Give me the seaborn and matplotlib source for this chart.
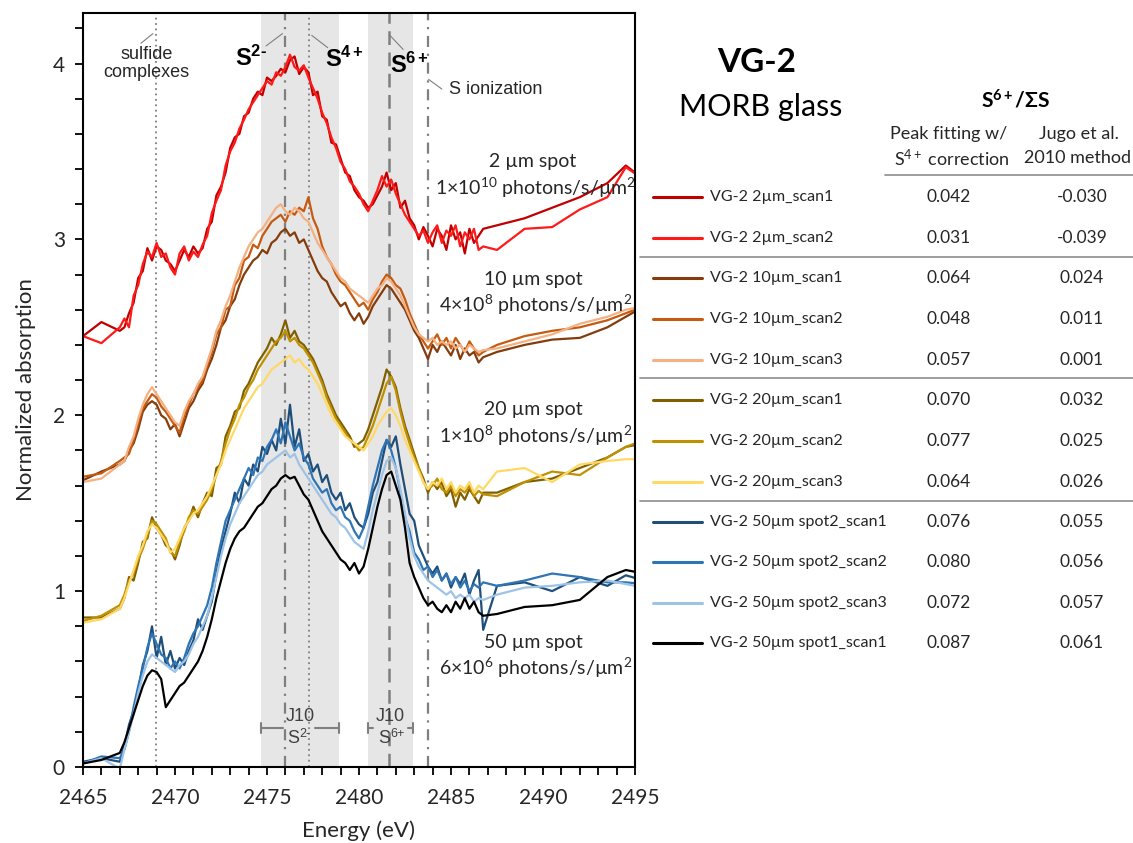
import numpy as np
import pandas as pd
import matplotlib
matplotlib.use("Agg")
import matplotlib.pyplot as plt
from matplotlib.lines import Line2D
from matplotlib.ticker import MultipleLocator
import seaborn as sns

# ---------------------------------------------------------------- data
# energy sampling: coarse pre-edge, 0.25 eV edge region, coarse post-edge
E_PRE = [2465.0, 2466.0, 2467.0]
E_EDGE = list(np.round(np.arange(2467.25, 2486.76, 0.25), 2))
E_POST = [2487.5, 2489.0, 2490.5, 2492.0, 2493.5, 2494.5, 2495.5]

# normalized absorption (vertically offset by spot size)
vg2_2um_scan1 = [
    2.45, 2.53, 2.48,
    2.50, 2.58, 2.64, 2.78, 2.82, 2.95, 2.88, 2.96, 2.94, 2.88,
    2.86, 2.82, 2.88, 2.94, 2.90, 2.96, 2.92, 2.95, 3.06, 3.10,
    3.25, 3.30, 3.38, 3.52, 3.58, 3.60, 3.70, 3.72, 3.80, 3.84,
    3.82, 3.92, 3.90, 3.93, 3.97, 3.95, 4.02, 4.04, 3.94, 3.98,
    3.95, 3.82, 3.84, 3.70, 3.68, 3.55, 3.54, 3.46, 3.38, 3.36,
    3.28, 3.24, 3.22, 3.18, 3.20, 3.25, 3.30, 3.38, 3.28, 3.32,
    3.18, 3.22, 3.12, 3.08, 3.00, 3.07, 3.02, 2.96, 3.06, 3.02,
    2.94, 3.08, 3.00, 3.04, 2.92, 3.06, 2.98, 3.02, 3.06,
    3.08, 3.12, 3.18, 3.24, 3.32, 3.42, 3.34,
]
vg2_2um_scan2 = [
    2.45, 2.41, 2.50,
    2.55, 2.50, 2.68, 2.74, 2.86, 2.93, 2.90, 2.98, 2.90, 2.92,
    2.84, 2.80, 2.92, 2.96, 2.88, 2.93, 2.90, 2.97, 3.02, 3.15,
    3.22, 3.28, 3.42, 3.50, 3.55, 3.63, 3.68, 3.74, 3.78, 3.82,
    3.86, 3.90, 3.88, 3.95, 3.93, 3.98, 4.05, 3.98, 3.96, 3.99,
    3.92, 3.86, 3.80, 3.72, 3.66, 3.58, 3.52, 3.44, 3.40, 3.33,
    3.30, 3.26, 3.20, 3.16, 3.22, 3.28, 3.36, 3.30, 3.34, 3.26,
    3.20, 3.14, 3.10, 3.06, 3.02, 3.05, 2.98, 3.04, 3.08, 2.98,
    3.05, 3.02, 3.08, 2.96, 3.04, 3.00, 3.06, 2.94, 2.96,
    2.94, 3.06, 3.07, 3.17, 3.24, 3.41, 3.34,
]
vg2_10um_scan1 = [
    1.63, 1.68, 1.72,
    1.74, 1.80, 1.84, 1.92, 2.02, 2.06, 2.08, 2.06, 2.00, 1.98,
    1.92, 1.95, 1.88, 1.96, 2.04, 2.08, 2.14, 2.18, 2.26, 2.32,
    2.40, 2.50, 2.54, 2.62, 2.66, 2.74, 2.80, 2.84, 2.88, 2.90,
    2.94, 2.92, 2.98, 3.00, 3.04, 3.06, 3.02, 3.04, 2.98, 3.00,
    2.94, 2.88, 2.82, 2.78, 2.76, 2.70, 2.66, 2.62, 2.64, 2.58,
    2.54, 2.58, 2.52, 2.56, 2.62, 2.66, 2.70, 2.74, 2.72, 2.68,
    2.64, 2.60, 2.54, 2.48, 2.44, 2.38, 2.32, 2.40, 2.36, 2.42,
    2.38, 2.34, 2.40, 2.32, 2.38, 2.34, 2.36, 2.30, 2.33,
    2.36, 2.40, 2.43, 2.44, 2.50, 2.56, 2.62,
]
vg2_10um_scan2 = [
    1.65, 1.67, 1.74,
    1.76, 1.78, 1.86, 1.95, 2.04, 2.08, 2.12, 2.10, 2.05, 2.02,
    1.98, 1.94, 1.90, 2.00, 2.06, 2.12, 2.16, 2.20, 2.28, 2.36,
    2.46, 2.50, 2.60, 2.62, 2.74, 2.78, 2.88, 2.90, 2.97, 2.95,
    3.02, 3.06, 3.10, 3.12, 3.14, 3.10, 3.16, 3.14, 3.18, 3.16,
    3.24, 3.12, 3.06, 2.96, 2.90, 2.86, 2.80, 2.76, 2.74, 2.70,
    2.66, 2.62, 2.64, 2.60, 2.66, 2.70, 2.76, 2.80, 2.78, 2.74,
    2.72, 2.66, 2.58, 2.52, 2.46, 2.42, 2.38, 2.42, 2.46, 2.40,
    2.44, 2.38, 2.44, 2.40, 2.36, 2.42, 2.38, 2.34, 2.36,
    2.40, 2.45, 2.48, 2.50, 2.54, 2.58, 2.62,
]
vg2_10um_scan3 = [
    1.62, 1.64, 1.72,
    1.74, 1.82, 1.88, 1.98, 2.06, 2.12, 2.16, 2.12, 2.08, 2.04,
    2.00, 1.96, 1.94, 2.02, 2.08, 2.12, 2.18, 2.22, 2.30, 2.38,
    2.48, 2.54, 2.62, 2.68, 2.76, 2.84, 2.90, 2.96, 3.00, 3.04,
    3.06, 3.10, 3.14, 3.18, 3.20, 3.16, 3.14, 3.18, 3.16, 3.12,
    3.10, 3.04, 2.98, 2.94, 2.90, 2.86, 2.82, 2.78, 2.76, 2.72,
    2.70, 2.68, 2.66, 2.64, 2.68, 2.72, 2.74, 2.78, 2.76, 2.72,
    2.68, 2.62, 2.56, 2.50, 2.46, 2.44, 2.42, 2.44, 2.40, 2.42,
    2.40, 2.42, 2.38, 2.40, 2.36, 2.40, 2.38, 2.36, 2.37,
    2.38, 2.42, 2.46, 2.52, 2.56, 2.60, 2.62,
]
vg2_20um_scan1 = [
    0.85, 0.85, 0.90,
    0.96, 1.08, 1.06, 1.16, 1.28, 1.30, 1.42, 1.36, 1.32, 1.26,
    1.24, 1.18, 1.26, 1.36, 1.40, 1.48, 1.42, 1.50, 1.56, 1.54,
    1.70, 1.72, 1.88, 1.94, 2.02, 2.04, 2.14, 2.18, 2.24, 2.30,
    2.34, 2.38, 2.44, 2.40, 2.46, 2.54, 2.44, 2.48, 2.42, 2.40,
    2.36, 2.32, 2.26, 2.20, 2.12, 2.06, 2.00, 1.96, 1.92, 1.88,
    1.82, 1.84, 1.86, 1.92, 2.00, 2.08, 2.16, 2.26, 2.22, 2.16,
    2.04, 1.94, 1.86, 1.78, 1.70, 1.64, 1.56, 1.62, 1.58, 1.62,
    1.54, 1.58, 1.48, 1.56, 1.52, 1.58, 1.54, 1.50, 1.56,
    1.56, 1.62, 1.64, 1.70, 1.76, 1.82, 1.84,
]
vg2_20um_scan2 = [
    0.83, 0.86, 0.92,
    0.98, 1.06, 1.10, 1.18, 1.24, 1.32, 1.40, 1.38, 1.34, 1.30,
    1.22, 1.20, 1.28, 1.34, 1.42, 1.46, 1.44, 1.48, 1.52, 1.58,
    1.66, 1.74, 1.84, 1.92, 1.98, 2.06, 2.10, 2.16, 2.20, 2.26,
    2.30, 2.34, 2.38, 2.42, 2.44, 2.48, 2.42, 2.44, 2.40, 2.38,
    2.34, 2.30, 2.24, 2.18, 2.10, 2.04, 1.98, 1.94, 1.90, 1.86,
    1.84, 1.80, 1.82, 1.88, 1.94, 2.02, 2.10, 2.18, 2.22, 2.14,
    2.02, 1.92, 1.84, 1.76, 1.70, 1.62, 1.58, 1.60, 1.64, 1.58,
    1.56, 1.60, 1.54, 1.58, 1.56, 1.60, 1.54, 1.57, 1.55,
    1.54, 1.62, 1.68, 1.66, 1.76, 1.82, 1.86,
]
vg2_20um_scan3 = [
    0.82, 0.84, 0.90,
    0.96, 1.04, 1.12, 1.20, 1.26, 1.34, 1.38, 1.36, 1.32, 1.28,
    1.22, 1.24, 1.30, 1.36, 1.40, 1.44, 1.46, 1.50, 1.54, 1.60,
    1.66, 1.72, 1.80, 1.86, 1.92, 1.98, 2.04, 2.08, 2.12, 2.16,
    2.18, 2.22, 2.26, 2.28, 2.30, 2.32, 2.34, 2.30, 2.32, 2.28,
    2.26, 2.22, 2.18, 2.12, 2.06, 2.00, 1.96, 1.92, 1.88, 1.86,
    1.84, 1.82, 1.80, 1.84, 1.88, 1.94, 1.98, 2.02, 2.04, 2.00,
    1.94, 1.86, 1.80, 1.74, 1.68, 1.62, 1.58, 1.62, 1.60, 1.64,
    1.58, 1.62, 1.56, 1.60, 1.58, 1.62, 1.56, 1.60, 1.58,
    1.68, 1.70, 1.62, 1.72, 1.74, 1.75, 1.75,
]
vg2_50um_spot2_scan1 = [
    0.03, 0.05, 0.03,
    0.12, 0.24, 0.32, 0.44, 0.58, 0.66, 0.80, 0.62, 0.74, 0.58,
    0.66, 0.56, 0.62, 0.58, 0.66, 0.72, 0.84, 0.78, 0.86, 0.94,
    1.10, 1.24, 1.34, 1.44, 1.56, 1.50, 1.64, 1.60, 1.72, 1.68,
    1.82, 1.78, 1.86, 1.80, 1.98, 1.84, 2.06, 1.82, 1.92, 1.74,
    1.78, 1.68, 1.72, 1.62, 1.66, 1.56, 1.52, 1.56, 1.46, 1.50,
    1.42, 1.38, 1.36, 1.44, 1.56, 1.62, 1.74, 1.86, 1.82, 1.88,
    1.72, 1.58, 1.44, 1.40, 1.26, 1.20, 1.14, 1.10, 1.14, 1.06,
    1.10, 1.02, 1.08, 1.04, 1.10, 0.98, 1.06, 1.12, 0.78,
    1.03, 1.05, 1.00, 1.08, 1.03, 1.09, 1.06,
]
vg2_50um_spot2_scan2 = [
    0.02, 0.06, 0.05,
    0.10, 0.20, 0.34, 0.46, 0.56, 0.68, 0.76, 0.70, 0.64, 0.62,
    0.56, 0.60, 0.56, 0.62, 0.70, 0.76, 0.80, 0.86, 0.92, 1.02,
    1.16, 1.28, 1.40, 1.46, 1.52, 1.58, 1.64, 1.70, 1.66, 1.76,
    1.74, 1.82, 1.86, 1.92, 1.84, 1.96, 1.88, 1.80, 1.84, 1.76,
    1.72, 1.64, 1.60, 1.56, 1.58, 1.50, 1.46, 1.48, 1.42, 1.40,
    1.34, 1.30, 1.36, 1.48, 1.60, 1.70, 1.80, 1.86, 1.80, 1.70,
    1.56, 1.42, 1.34, 1.22, 1.18, 1.12, 1.14, 1.08, 1.12, 1.06,
    1.10, 1.04, 1.08, 1.02, 1.06, 1.00, 1.04, 1.02, 1.05,
    1.03, 1.06, 1.10, 1.08, 1.05, 1.05, 1.04,
]
vg2_50um_spot2_scan3 = [
    0.02, 0.05, -0.01,
    0.10, 0.20, 0.30, 0.42, 0.52, 0.60, 0.64, 0.62, 0.60, 0.58,
    0.56, 0.54, 0.58, 0.60, 0.64, 0.70, 0.74, 0.80, 0.86, 0.96,
    1.08, 1.20, 1.30, 1.38, 1.44, 1.50, 1.54, 1.58, 1.62, 1.66,
    1.68, 1.72, 1.74, 1.76, 1.78, 1.80, 1.76, 1.78, 1.72, 1.68,
    1.64, 1.60, 1.56, 1.52, 1.48, 1.44, 1.42, 1.38, 1.36, 1.32,
    1.28, 1.26, 1.24, 1.34, 1.46, 1.56, 1.66, 1.74, 1.76, 1.70,
    1.58, 1.44, 1.30, 1.20, 1.14, 1.10, 1.06, 1.04, 1.02, 1.00,
    0.98, 1.00, 0.96, 0.98, 0.96, 0.98, 0.94, 0.96, 0.95,
    0.98, 1.02, 1.03, 1.05, 1.06, 1.04, 1.02,
]
vg2_50um_spot1_scan1 = [
    0.02, 0.04, 0.08,
    0.14, 0.22, 0.30, 0.38, 0.46, 0.52, 0.55, 0.54, 0.50, 0.34,
    0.38, 0.42, 0.46, 0.48, 0.52, 0.56, 0.60, 0.66, 0.74, 0.84,
    0.96, 1.06, 1.16, 1.24, 1.30, 1.34, 1.36, 1.40, 1.44, 1.48,
    1.50, 1.54, 1.58, 1.60, 1.64, 1.66, 1.64, 1.65, 1.60, 1.55,
    1.52, 1.46, 1.40, 1.34, 1.30, 1.26, 1.22, 1.18, 1.16, 1.12,
    1.16, 1.10, 1.14, 1.24, 1.36, 1.48, 1.58, 1.66, 1.68, 1.60,
    1.52, 1.36, 1.16, 1.08, 1.02, 0.96, 0.92, 0.94, 0.90, 0.88,
    0.92, 0.88, 0.94, 0.90, 0.96, 0.90, 0.94, 0.88, 0.86,
    0.87, 0.91, 0.92, 0.95, 1.08, 1.12, 1.10,
]

scan_names = [
    "VG-2 2µm_scan1", "VG-2 2µm_scan2",
    "VG-2 10µm_scan1", "VG-2 10µm_scan2", "VG-2 10µm_scan3",
    "VG-2 20µm_scan1", "VG-2 20µm_scan2", "VG-2 20µm_scan3",
    "VG-2 50µm spot2_scan1", "VG-2 50µm spot2_scan2",
    "VG-2 50µm spot2_scan3", "VG-2 50µm spot1_scan1",
]
scan_values = [
    vg2_2um_scan1, vg2_2um_scan2,
    vg2_10um_scan1, vg2_10um_scan2, vg2_10um_scan3,
    vg2_20um_scan1, vg2_20um_scan2, vg2_20um_scan3,
    vg2_50um_spot2_scan1, vg2_50um_spot2_scan2,
    vg2_50um_spot2_scan3, vg2_50um_spot1_scan1,
]
scan_colors = [
    "#C00000", "#FF1A1A",
    "#843C0C", "#C55A11", "#F4B183",
    "#7F6000", "#BF9000", "#FFD966",
    "#1F4E79", "#2E75B6", "#9DC3E6", "#000000",
]
# S6+/ΣS results
peak_fit_s4_corr = ["0.042", "0.031", "0.064", "0.048", "0.057", "0.070",
                    "0.077", "0.064", "0.076", "0.080", "0.072", "0.087"]
jugo_2010 = ["-0.030", "-0.039", "0.024", "0.011", "0.001", "0.032",
             "0.025", "0.026", "0.055", "0.056", "0.057", "0.061"]

# reference energies (eV)
E_SULFIDE = 2468.95
E_S2 = 2475.96
E_S4 = 2477.28
E_S6 = 2481.63
E_ION = 2483.73
J10_S2 = (2474.70, 2478.92)
J10_S6 = (2480.50, 2482.95)

# group captions
group_spot = ["2 µm spot", "10 µm spot", "20 µm spot", "50 µm spot"]
group_flux = ["1×10$^{10}$", "4×10$^{8}$", "1×10$^{8}$", "6×10$^{6}$"]
group_y = [3.44, 2.77, 2.03, 0.71]

# ---------------------------------------------------------------- style
sns.set_theme(style="ticks")
plt.rcParams["font.family"] = ["Lato", "DejaVu Sans"]
plt.rcParams["mathtext.fontset"] = "custom"
plt.rcParams["mathtext.rm"] = "Lato"
plt.rcParams["mathtext.it"] = "Lato"
plt.rcParams["mathtext.bf"] = "Lato:bold"
plt.rcParams["mathtext.sf"] = "Liberation Sans"
plt.rcParams["mathtext.tt"] = "Liberation Sans:bold"

ARIAL = ["Liberation Sans", "DejaVu Sans"]
TXT = "#262626"
GREY = "#7F7F7F"

W, H = 1133, 843
fig = plt.figure(figsize=(W / 100, H / 100), dpi=100)
ax = fig.add_axes([83 / W, 76 / H, 552 / W, 754.5 / H])

energy = E_PRE + [float(e) for e in E_EDGE] + E_POST
rows = []
for name, vals in zip(scan_names, scan_values):
    for e, v in zip(energy, vals):
        rows.append((name, e, v))
df = pd.DataFrame(rows, columns=["scan", "energy", "absorption"])

# shaded J10 windows and reference lines
ax.axvspan(*J10_S2, color="#E7E6E6", lw=0, zorder=0)
ax.axvspan(*J10_S6, color="#E7E6E6", lw=0, zorder=0)
ax.axvline(E_SULFIDE, color=GREY, lw=1.3, ls=(0, (1, 2)), zorder=1)
ax.axvline(E_S4, color=GREY, lw=1.3, ls=(0, (1, 2)), zorder=1)
ax.axvline(E_S2, color=GREY, lw=1.6, ls=(0, (5, 3, 1, 3)), zorder=1)
ax.axvline(E_ION, color=GREY, lw=1.6, ls=(0, (5, 3, 1, 3)), zorder=1)
ax.axvline(E_S6, color=GREY, lw=1.8, ls=(0, (5.5, 3)), zorder=1)

sns.lineplot(data=df, x="energy", y="absorption", hue="scan",
             hue_order=scan_names, palette=dict(zip(scan_names, scan_colors)),
             estimator=None, sort=False, legend=False, lw=1.6, ax=ax,
             zorder=2)

ax.set_xlim(2465, 2495)
ax.set_ylim(0, 4.29)
ax.xaxis.set_major_locator(MultipleLocator(5))
ax.xaxis.set_minor_locator(MultipleLocator(1))
ax.yaxis.set_major_locator(MultipleLocator(1))
ax.yaxis.set_minor_locator(MultipleLocator(0.2))
ax.tick_params(which="both", direction="out", length=6, width=1.3,
               color="black", labelsize=15, labelcolor=TXT)
ax.tick_params(axis="x", pad=9)
ax.tick_params(axis="y", pad=7)
for s in ax.spines.values():
    s.set_linewidth(1.5)
    s.set_color("black")
ax.set_xlabel("Energy (eV)", fontsize=16, color=TXT, labelpad=9)
ax.set_ylabel("Normalized absorption", fontsize=16, color=TXT, labelpad=12)

# species annotations
def leader(x0, y0, x1, y1):
    ax.annotate("", xy=(x0, y0), xytext=(x1, y1),
                arrowprops=dict(arrowstyle="-", color=GREY, lw=0.8,
                                shrinkA=0, shrinkB=0))

ax.text(2468.45, 4.0, "sulfide\ncomplexes", ha="center", va="center",
        fontsize=13, family=ARIAL, color=TXT, linespacing=1.1)
leader(E_SULFIDE - 0.15, 4.17, 2468.15, 4.115)
ax.text(2474.15, 4.035, "$\\mathtt{S^{2\u2010}}$", ha="center", va="center",
        fontsize=17, color="black")
leader(E_S2 - 0.12, 4.17, 2474.95, 4.10)
ax.text(2479.2, 4.03, r"$\mathtt{S^{4+}}$", ha="center", va="center",
        fontsize=17, color="black")
leader(E_S4 + 0.15, 4.16, 2478.3, 4.09)
ax.text(2482.75, 3.995, r"$\mathtt{S^{6+}}$", ha="center", va="center",
        fontsize=17, color="black")
leader(E_S6 + 0.05, 4.16, 2482.4, 4.08)
ax.text(2487.45, 3.855, "S ionization", ha="center", va="center",
        fontsize=13, family=ARIAL, color=TXT)
leader(E_ION + 0.05, 3.91, 2484.5, 3.855)

# spot / flux captions
for spot, flux, y in zip(group_spot, group_flux, group_y):
    ax.text(2489.45, y, spot, ha="center", va="center", fontsize=14,
            color=TXT, clip_on=False)
    ax.text(2489.6, y - 0.145, flux + " photons/s/µm$^{2}$", ha="center",
            va="center", fontsize=14, color=TXT, clip_on=False)

# J10 brackets
def bracket(x0, x1, gap0, gap1, species):
    y = 0.222
    for a, b in ((x0, gap0), (gap1, x1)):
        ax.plot([a, b], [y, y], color=GREY, lw=1.5, zorder=3)
    for xc in (x0, x1):
        ax.plot([xc, xc], [y - 0.03, y + 0.03], color=GREY, lw=1.5, zorder=3)
    xm = (x0 + x1) / 2
    ax.text(xm, 0.287, "J10", ha="center", va="center", fontsize=13,
            family=ARIAL, color="#404040")
    ax.annotate("S", (xm, 0.16), xytext=(-5, 0), textcoords="offset points",
                ha="center", va="center", fontsize=13, family=ARIAL,
                color="#404040")
    ax.annotate(species, (xm, 0.16), xytext=(-0.5, 3.5),
                textcoords="offset points", ha="left", va="center",
                fontsize=9, family=ARIAL, color="#404040")

bracket(J10_S2[0], J10_S2[1], 2475.85, 2477.6, "2-")
bracket(J10_S6[0], J10_S6[1], 2480.78, 2482.67, "6+")

# ---------------------------------------------------------------- table panel
def ftext(x, y, s, **kw):
    fig.text(x / W, 1 - y / H, s, va="center", color=kw.pop("color", TXT), **kw)

def fline(x0, x1, y, **kw):
    fig.add_artist(Line2D([x0 / W, x1 / W], [1 - y / H, 1 - y / H], **kw))

ftext(757, 62, "VG-2", ha="center", fontsize=24, fontweight="bold",
      color="black")
ftext(761, 107, "MORB glass", ha="center", fontsize=22, color="black")
ftext(1016, 100, "S$^{\\mathbf{6+}}$/ΣS", ha="center", fontsize=15,
      fontweight="bold", color="black")
ftext(949, 134, "Peak fitting w/", ha="center", fontsize=13)
ftext(952, 158, "S$^{4+}$ correction", ha="center", fontsize=13)
ftext(1079, 134, "Jugo et al.", ha="center", fontsize=13)
ftext(1078, 158, "2010 method", ha="center", fontsize=13)
fline(885, W, 175, color="#8C8C8C", lw=1.2)

row_y = [197, 238, 278, 319, 360, 400, 441, 482, 522, 562, 603, 643]
for name, col, v1, v2, y in zip(scan_names, scan_colors, peak_fit_s4_corr,
                                 jugo_2010, row_y):
    fline(653, 702, y, color=col, lw=2.2)
    ftext(710, y, name, ha="left", fontsize=11.5)
    ftext(949, y, v1, ha="center", fontsize=12.5)
    ftext(1082, y, v2, ha="center", fontsize=12.5)
for y in (257, 378, 501):
    fline(640, W, y, color="#8C8C8C", lw=1.2)

fig.savefig("out.png", dpi=100)
